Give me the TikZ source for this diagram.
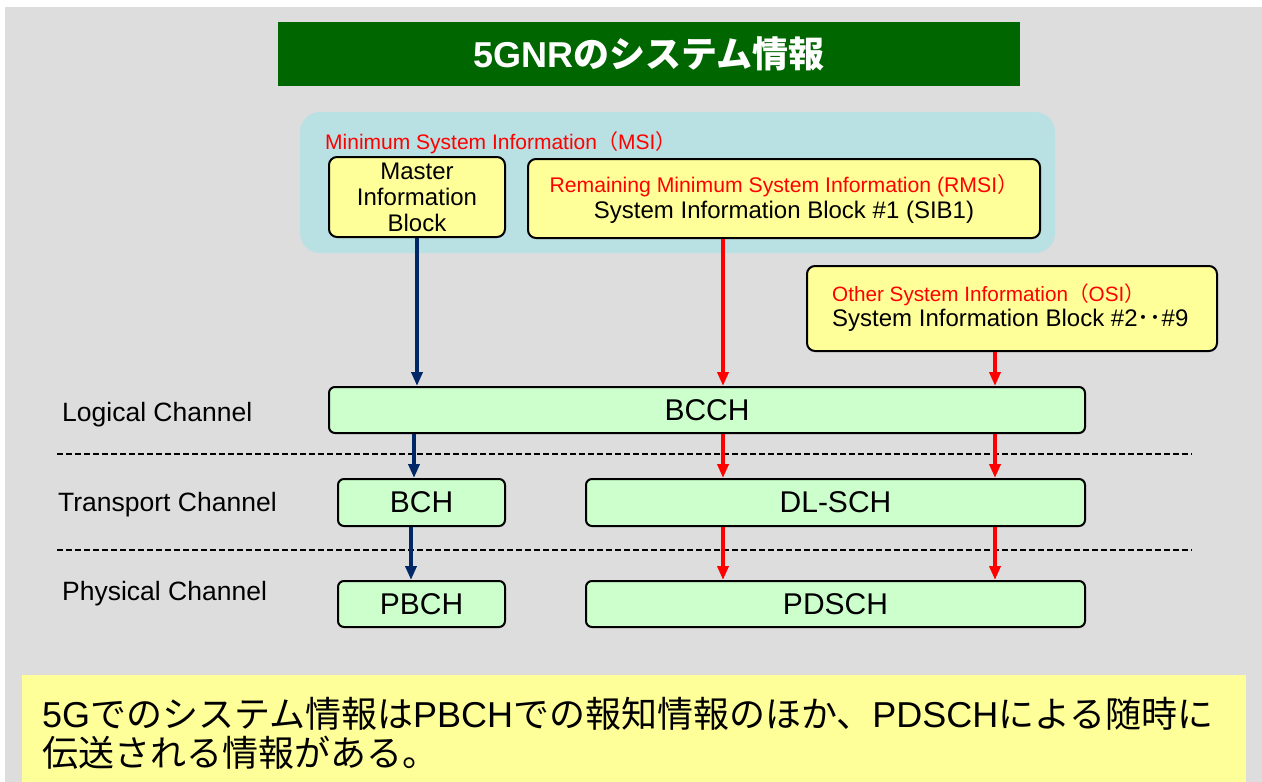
\documentclass[tikz,border=0pt]{standalone}
\usepackage{fontspec}
\setmainfont{Liberation Sans}
\newfontfamily\cjk{Noto Sans CJK JP}
\usetikzlibrary{arrows.meta,calc}
\definecolor{bggray}{HTML}{DDDDDD}
\definecolor{titlegreen}{HTML}{006600}
\definecolor{msicyan}{HTML}{B9E0E3}
\definecolor{boxyellow}{HTML}{FFFF99}
\definecolor{boxgreen}{HTML}{CCFFCC}
\definecolor{navyblue}{HTML}{002766}
\definecolor{arrowred}{HTML}{FF0000}
\tikzset{
  ybox/.style={draw=black, line width=2pt, rounded corners=8pt, fill=boxyellow, inner sep=0pt},
  gbox/.style={draw=black, line width=2pt, rounded corners=6pt, fill=boxgreen, inner sep=0pt,
    font=\fontsize{30}{32}\selectfont},
  navyarrow/.style={draw=navyblue, line width=3.5pt, -{Triangle[length=14pt,width=11pt]}},
  redarrow/.style={draw=arrowred, line width=3.5pt, -{Triangle[length=14pt,width=11pt]}},
  chlabel/.style={anchor=west, inner sep=0pt, font=\fontsize{26.5}{28}\selectfont},
  sepline/.style={draw=black, line width=2pt, dash pattern=on 6pt off 3pt},
}
\begin{document}
\begin{tikzpicture}[x=1pt,y=-1pt]
\useasboundingbox (0,0) rectangle (1262,782);
\fill[white] (0,0) rectangle (1262,782);
\fill[bggray] (5,7) rectangle (1262,782);

% title
\node[fill=titlegreen, minimum width=742pt, minimum height=64pt, inner sep=0pt,
      text=white, font=\fontsize{36}{38}\selectfont\bfseries] (title) at (649,54)
  {5GNR{\cjk\bfseries のシステム情報}};

% MSI region
\node[fill=msicyan, rounded corners=20pt, minimum width=755pt, minimum height=141pt, inner sep=0pt]
  (msi) at (677.5,182.5) {};
\node[anchor=west, inner sep=0pt, text=arrowred, font=\fontsize{21}{23}\selectfont]
  (msilabel) at (325,143) {Minimum System Information{\cjk （}MSI{\cjk ）}};

\node[ybox, minimum width=176pt, minimum height=80pt, align=center,
      font=\fontsize{24}{26}\selectfont] (mib) at (417,197)
  {Master\\Information\\Block};
\node[ybox, minimum width=512pt, minimum height=79pt] (rmsi) at (784,198.5) {};
\node[inner sep=0pt, text=arrowred, font=\fontsize{21.2}{23}\selectfont] (rmsired) at (784,186)
  {Remaining Minimum System Information (RMSI{\cjk ）}};
\node[inner sep=0pt, font=\fontsize{24}{26}\selectfont] (rmsiblk) at (784,212)
  {System Information Block \#1 (SIB1)};

% OSI
\node[ybox, minimum width=410pt, minimum height=85pt] (osi) at (1012,308.5) {};
\node[anchor=west, inner sep=0pt, text=arrowred, font=\fontsize{20.7}{23}\selectfont] (osired) at (832,295)
  {Other System Information{\cjk （}OSI{\cjk ）}};
\node[anchor=west, inner sep=0pt, font=\fontsize{24}{26}\selectfont] (osiblk) at (832,320)
  {System Information Block \#2{\cjk ･･}\#9};

% channels
\node[gbox, minimum width=756pt, minimum height=46pt] (bcch) at (707,410) {BCCH};
\node[gbox, minimum width=167pt, minimum height=47pt] (bch) at (421.5,502.5) {BCH};
\node[gbox, minimum width=499pt, minimum height=47pt] (dlsch) at (835.5,502.5) {DL-SCH};
\node[gbox, minimum width=167pt, minimum height=46pt] (pbch) at (421.5,604) {PBCH};
\node[gbox, minimum width=499pt, minimum height=46pt] (pdsch) at (835.5,604) {PDSCH};

\node[chlabel] (logical) at (62,415) {Logical Channel};
\node[chlabel] (transport) at (58,505) {Transport Channel};
\node[chlabel] (physical) at (62,594) {Physical Channel};

% dashed separators
\coordinate (d1a) at (57,454); \coordinate (d1b) at (1192,454);
\coordinate (d2a) at (57,550); \coordinate (d2b) at (1192,550);
\draw[sepline] (d1a) -- (d1b);
\draw[sepline] (d2a) -- (d2b);

% arrow columns
\coordinate (xa) at (417,0);
\coordinate (xb) at (414,0);
\coordinate (xc) at (411,0);
\coordinate (xr) at (723,0);
\coordinate (xs) at (995,0);

\draw[navyarrow] (mib.south -| xa) -- (bcch.north -| xa);
\draw[navyarrow] (bcch.south -| xb) -- (bch.north -| xb);
\draw[navyarrow] (bch.south -| xc) -- (pbch.north -| xc);

\draw[redarrow] (rmsi.south -| xr) -- (bcch.north -| xr);
\draw[redarrow] (osi.south -| xs) -- (bcch.north -| xs);
\draw[redarrow] (bcch.south -| xr) -- (dlsch.north -| xr);
\draw[redarrow] (bcch.south -| xs) -- (dlsch.north -| xs);
\draw[redarrow] (dlsch.south -| xr) -- (pdsch.north -| xr);
\draw[redarrow] (dlsch.south -| xs) -- (pdsch.north -| xs);

% bottom note
\fill[boxyellow] (22,675) rectangle (1246,782);
\node[anchor=west, inner sep=0pt, align=left, font=\fontsize{36}{39}\selectfont] (note) at (42,733)
  {5G{\cjk でのシステム情報は}PBCH{\cjk での報知情報のほか、}PDSCH{\cjk による随時に}\\
   {\cjk 伝送される情報がある。}};
\end{tikzpicture}
\end{document}
